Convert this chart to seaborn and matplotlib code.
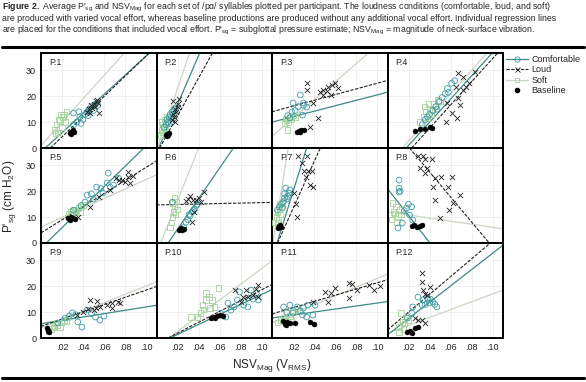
import pandas as pd
import seaborn as sns
import matplotlib.pyplot as plt
from matplotlib.lines import Line2D

participants = ['P.1', 'P.2', 'P.3', 'P.4', 'P.5', 'P.6',
                'P.7', 'P.8', 'P.9', 'P.10', 'P.11', 'P.12']
conditions = ['Comfortable', 'Loud', 'Soft', 'Baseline']

# NSV magnitude (x) and P'sg (y) per participant, one list per panel
comf_x = [
    [0.031, 0.034, 0.037, 0.040, 0.042, 0.044, 0.046, 0.048, 0.050, 0.052, 0.038, 0.045, 0.054, 0.036, 0.031],
    [0.007, 0.009, 0.010, 0.011, 0.012, 0.013, 0.014, 0.015, 0.016, 0.017, 0.012, 0.018],
    [0.027, 0.020, 0.030, 0.033, 0.019, 0.022, 0.029, 0.017, 0.030, 0.025, 0.015],
    [0.033, 0.036, 0.040, 0.043, 0.046, 0.049, 0.052, 0.055, 0.057, 0.061, 0.038, 0.047, 0.058, 0.064],
    [0.044, 0.053, 0.057, 0.063, 0.064, 0.066, 0.048, 0.042, 0.038, 0.031, 0.074, 0.069, 0.059, 0.050],
    [0.026, 0.028, 0.030, 0.032, 0.034, 0.036, 0.038, 0.039, 0.015, 0.031, 0.035],
    [0.005, 0.007, 0.009, 0.011, 0.012, 0.013, 0.015, 0.016, 0.017, 0.012, 0.014, 0.010],
    [0.011, 0.011, 0.012, 0.011, 0.018, 0.021, 0.014, 0.023, 0.024, 0.010, 0.016, 0.020],
    [0.030, 0.035, 0.039, 0.044, 0.052, 0.056, 0.023, 0.016, 0.048, 0.060, 0.027, 0.033],
    [0.068, 0.071, 0.077, 0.087, 0.090, 0.095, 0.097, 0.083, 0.061, 0.066, 0.079, 0.087, 0.092, 0.074],
    [0.011, 0.017, 0.024, 0.030, 0.034, 0.029, 0.033, 0.020, 0.039, 0.041, 0.027, 0.014],
    [0.029, 0.034, 0.038, 0.040, 0.043, 0.047, 0.033, 0.024, 0.023, 0.019, 0.036, 0.041, 0.045],
]
comf_y = [
    [9, 10, 12, 11, 13, 14, 15, 16, 14.5, 17, 9.5, 12.5, 16.5, 14, 13.5],
    [8, 9, 11, 10, 12, 13, 11.5, 14, 13, 15, 9.5, 15.5],
    [20.5, 17.4, 17.4, 15.8, 13.9, 14.5, 12.7, 11.6, 16.5, 16, 12.5],
    [9, 11, 13, 14.5, 16, 18, 19.5, 21, 23, 25, 12, 15, 21.5, 26],
    [18.5, 21.6, 21, 23.2, 27, 21.5, 19, 15.8, 14.5, 12.7, 25, 22.4, 19.3, 17],
    [6, 8, 9, 10.5, 12, 13, 14.5, 15, 15.8, 11, 12.5],
    [12.7, 14, 15, 16, 17.4, 21.2, 18, 19.3, 20.5, 19, 17, 13.5],
    [24.3, 21.2, 20, 19.7, 13.5, 10.8, 7.7, 14, 8.9, 5.8, 12.5, 15],
    [9.7, 6.2, 4.2, 10.8, 8.1, 6.9, 7.7, 5.8, 9.5, 8.5, 8.5, 9],
    [13.5, 10.8, 14.7, 15.4, 18.5, 17.4, 14.7, 12.7, 9.6, 8.1, 17.8, 12, 15, 12],
    [12, 12.7, 12, 11.6, 12.7, 8.9, 8.1, 9.6, 8.9, 12.7, 10.5, 10],
    [15.8, 14.7, 15.4, 13.5, 14, 12, 12.7, 12, 9.6, 7.7, 13, 15, 13],
]
loud_x = [
    [0.044, 0.046, 0.048, 0.050, 0.052, 0.054, 0.049, 0.051, 0.047, 0.055, 0.053],
    [0.015, 0.016, 0.017, 0.018, 0.019, 0.020, 0.021, 0.018, 0.020, 0.016],
    [0.0335, 0.0335, 0.046, 0.049, 0.053, 0.057, 0.060, 0.063, 0.056, 0.049, 0.039, 0.044, 0.036, 0.052],
    [0.067, 0.072, 0.065, 0.072, 0.075, 0.067, 0.057, 0.061, 0.066, 0.056, 0.083, 0.078, 0.069],
    [0.047, 0.055, 0.066, 0.071, 0.077, 0.080, 0.083, 0.083, 0.085, 0.074, 0.088, 0.035],
    [0.045, 0.035, 0.038, 0.034, 0.030, 0.032, 0.040, 0.042, 0.028, 0.036],
    [0.025, 0.033, 0.029, 0.030, 0.034, 0.038, 0.032, 0.039, 0.036, 0.021, 0.024, 0.023],
    [0.029, 0.034, 0.036, 0.042, 0.031, 0.038, 0.036, 0.045, 0.051, 0.061, 0.043, 0.058, 0.069, 0.045, 0.062, 0.059, 0.050],
    [0.047, 0.053, 0.052, 0.056, 0.063, 0.068, 0.068, 0.073, 0.075, 0.034, 0.040, 0.045, 0.050],
    [0.075, 0.085, 0.097, 0.095, 0.087, 0.092, 0.097, 0.082, 0.080],
    [0.039, 0.050, 0.060, 0.053, 0.073, 0.076, 0.081, 0.073, 0.092, 0.097, 0.103, 0.056],
    [0.033, 0.033, 0.040, 0.034, 0.036, 0.033, 0.029, 0.036, 0.026, 0.038],
]
loud_y = [
    [14, 15, 16.5, 17, 18, 17.5, 15.5, 16, 13.5, 13.5, 18.5],
    [11, 13, 12, 15, 14, 17, 19, 10, 16, 18],
    [25, 22.4, 21.6, 22.4, 23.6, 24.3, 25, 23.2, 20.5, 20.5, 17.4, 11.6, 8.1, 22],
    [29, 27.4, 23.6, 22.4, 23.6, 19.3, 17.4, 13.5, 11.6, 10, 29.4, 25, 16.6],
    [13.9, 17.8, 20.5, 25, 24.3, 23.5, 25.5, 27.4, 23.2, 24.5, 26, 10],
    [19.7, 16.6, 16.5, 8.1, 17, 18, 17.5, 16, 16.3, 12],
    [33.6, 33.6, 31, 28, 28, 28, 25.5, 21.6, 22.5, 19.5, 10, 15],
    [33.6, 33.6, 32.5, 32.4, 29, 29, 27, 25, 25.5, 25.5, 21.6, 21.6, 18.5, 16.6, 15.4, 12.7, 9.6],
    [14.7, 14.3, 11.6, 12, 12.7, 11.6, 13.5, 13.9, 13.5, 8.9, 10, 11.2, 11],
    [18.5, 18.5, 20.5, 19, 15.8, 16.5, 15.8, 16, 14],
    [13.9, 17.8, 19.3, 13.9, 21.2, 20.8, 18.5, 15.4, 20.5, 18.5, 20, 17.4],
    [25, 21.6, 19.7, 18.5, 17, 7, 6.8, 5.8, 7.7, 16.5],
]
soft_x = [
    [0.013, 0.015, 0.017, 0.019, 0.021, 0.023, 0.016, 0.020, 0.024, 0.018, 0.014, 0.022],
    [0.004, 0.005, 0.006, 0.007, 0.008, 0.009, 0.010, 0.006, 0.008, 0.005],
    [0.014, 0.017, 0.012, 0.015, 0.018, 0.020, 0.016, 0.022, 0.013],
    [0.031, 0.034, 0.036, 0.038, 0.040, 0.042, 0.044, 0.046, 0.048, 0.050, 0.035, 0.039, 0.043],
    [0.026, 0.028, 0.030, 0.032, 0.034, 0.036, 0.038, 0.040, 0.029, 0.033, 0.037],
    [0.013, 0.014, 0.015, 0.016, 0.017, 0.018, 0.019, 0.020, 0.015, 0.017],
    [0.003, 0.004, 0.005, 0.006, 0.007, 0.008, 0.009, 0.010, 0.005, 0.007],
    [0.004, 0.006, 0.008, 0.010, 0.012, 0.013, 0.005, 0.009, 0.007],
    [0.007, 0.010, 0.013, 0.016, 0.019, 0.022, 0.025, 0.012, 0.018, 0.024, 0.015],
    [0.033, 0.042, 0.044, 0.047, 0.050, 0.047, 0.059, 0.053, 0.051, 0.039, 0.055, 0.045],
    [0.005, 0.008, 0.011, 0.014, 0.017, 0.020, 0.024, 0.012, 0.018],
    [0.013, 0.014, 0.011, 0.016, 0.011, 0.018, 0.015, 0.020],
]
soft_y = [
    [7, 9, 11, 13, 12, 10, 6, 8, 14, 10.5, 5.5, 13],
    [5, 7, 9, 8, 11, 10, 12, 6, 7.5, 10],
    [10.8, 12, 9.6, 7, 11, 12.5, 10, 12, 11.5],
    [10, 12, 14, 11.5, 15, 13, 17, 16, 18.5, 18, 16, 17, 14.5],
    [11.5, 12, 12.5, 13, 12.2, 13.5, 14, 14.7, 11, 12.8, 12],
    [6, 8, 10, 12, 14, 11, 16, 13, 15.5, 17.4],
    [8, 10, 12, 9, 13, 11, 14, 15.4, 7.7, 15],
    [9, 12, 14, 10.5, 13, 11, 15.4, 8, 11.5],
    [2.5, 3.5, 4.5, 5, 6, 7, 8, 4, 4.2, 6.5, 6],
    [8.1, 9.6, 12.7, 14.7, 15.8, 17.4, 19.3, 14.7, 11.6, 8.1, 12, 11],
    [6, 7, 8, 9.6, 8.5, 10, 10.8, 6.5, 7],
    [9.6, 6.2, 4.2, 5.5, 2.3, 8, 3.5, 7],
]
base_x = [
    [0.028, 0.029, 0.030, 0.031, 0.029],
    [0.009, 0.010, 0.011, 0.012, 0.010],
    [0.024, 0.026, 0.028, 0.030, 0.027],
    [0.026, 0.031, 0.036, 0.040, 0.042],
    [0.026, 0.028, 0.030, 0.032, 0.029],
    [0.021, 0.022, 0.023, 0.024, 0.026],
    [0.006, 0.007, 0.008, 0.009, 0.007],
    [0.023, 0.025, 0.028, 0.031, 0.033],
    [0.006, 0.007, 0.007, 0.008],
    [0.052, 0.055, 0.058, 0.060, 0.063, 0.056],
    [0.010, 0.012, 0.014, 0.017, 0.022, 0.036, 0.040, 0.013],
    [0.019, 0.023, 0.026, 0.029, 0.021],
]
base_y = [
    [5.8, 6.3, 6.8, 6.1, 5.4],
    [5, 5.5, 5.2, 5.8, 4.6],
    [6.2, 6.6, 6.8, 7, 6.3],
    [6.6, 7.3, 7.4, 8.0, 7.7],
    [9.5, 9.0, 9.8, 9.2, 10],
    [5.0, 5.4, 5.8, 5.2, 5.6],
    [5.8, 6.4, 7, 6.2, 6.7],
    [6.5, 6.8, 6.2, 6.6, 7],
    [3.9, 2.7, 3.2, 2.5],
    [7.7, 8.0, 8.4, 8.9, 8.6, 7.6],
    [6.5, 5.5, 6, 5.8, 5.8, 6.2, 5.4, 5],
    [2.3, 1.9, 3.9, 4.2, 2.8],
]

# individual regression lines (slope, intercept)
comf_slope = [370, 940, 105, 448, 395, 590, 1300, -520, 65, 193, 58, 315]
comf_icpt = [-1.5, -2, 10, -8, -2, -6.5, -6.2, 21, 5.5, -2.5, 7.7, 1.2]
loud_slope = [390, 730, 110, 448, 253, 9, 900, -483, 140, 209, 120, 343]
loud_icpt = [-3.5, -2.2, 14, -10.3, 3.9, 14.7, -4.7, 46.8, 4.5, -2.3, 9.3, 3.1]
soft_slope = [450, 1200, 350, 455, 183, 1015, 2500, -59, 162, 304, 170, 151]
soft_icpt = [1, -1, 4.5, -6.4, 6.2, -4, -2, 12, 3.9, -3.6, 6, 1.9]

xticks = [0.02, 0.04, 0.06, 0.08, 0.10]
xtick_labels = ['.02', '.04', '.06', '.08', '.10']
yticks = [0, 10, 20, 30]

rows = []
for i, p in enumerate(participants):
    for cond, xs, ys in [('Comfortable', comf_x[i], comf_y[i]), ('Loud', loud_x[i], loud_y[i]),
                         ('Soft', soft_x[i], soft_y[i]), ('Baseline', base_x[i], base_y[i])]:
        for x, y in zip(xs, ys):
            rows.append((p, cond, x, y))
df = pd.DataFrame(rows, columns=['participant', 'condition', 'nsv', 'psg'])

sns.set_style('whitegrid', {'grid.color': '#eaeaea', 'axes.edgecolor': 'black'})
plt.rcParams['font.family'] = ['Liberation Sans', 'DejaVu Sans']
plt.rcParams['mathtext.fontset'] = 'custom'
plt.rcParams['mathtext.rm'] = 'Liberation Sans'
plt.rcParams['mathtext.bf'] = 'Liberation Sans:bold'
plt.rcParams['mathtext.it'] = 'Liberation Sans:italic'

comf_pt, comf_ln = '#3e9ba6', '#3d8a86'
soft_pt, soft_ln = '#a2d29a', '#c9d6c4'
loud_c = '#222222'

fig, axes = plt.subplots(3, 4, figsize=(5.86, 3.82), dpi=100, sharex=True, sharey=True)
fig.subplots_adjust(left=41/586, right=503/586, top=1-53/382, bottom=1-338/382,
                    wspace=0, hspace=0)

for i, ax in enumerate(axes.flat):
    p = participants[i]
    sub = df[df.participant == p]
    ax.set_xlim(0, 0.11)
    ax.set_ylim(0, 36.7)

    ax.axline((0, soft_icpt[i]), slope=soft_slope[i], color=soft_ln, lw=0.9, zorder=2)
    ax.axline((0, comf_icpt[i]), slope=comf_slope[i], color=comf_ln, lw=0.9, zorder=2)
    ax.axline((0, loud_icpt[i]), slope=loud_slope[i], color=loud_c, lw=0.8,
              dashes=(3, 1.3), zorder=2)

    sns.scatterplot(data=sub[sub.condition == 'Soft'], x='nsv', y='psg', marker='s', s=15,
                    color=soft_pt, facecolor='none', edgecolor=soft_pt, linewidth=0.6,
                    ax=ax, zorder=3)
    sns.scatterplot(data=sub[sub.condition == 'Comfortable'], x='nsv', y='psg', marker='o', s=17,
                    color=comf_pt, facecolor='none', edgecolor=comf_pt, linewidth=0.6,
                    ax=ax, zorder=3)
    sns.scatterplot(data=sub[sub.condition == 'Loud'], x='nsv', y='psg', marker='x', s=14,
                    color=loud_c, linewidth=0.6, ax=ax, zorder=3)
    sns.scatterplot(data=sub[sub.condition == 'Baseline'], x='nsv', y='psg', marker='o', s=13,
                    color='black', edgecolor='black', linewidth=0.3, ax=ax, zorder=4)

    ax.text(0.07, 0.9, p, transform=ax.transAxes, fontsize=6.5, va='center', ha='left')
    ax.set_xlabel('')
    ax.set_ylabel('')
    ax.set_xticks(xticks, xtick_labels)
    ax.set_yticks(yticks)
    ax.grid(True, lw=0.5)
    for sp in ax.spines.values():
        sp.set_linewidth(1.4)
        sp.set_color('black')
    ax.tick_params(labelsize=6.5, length=2, width=0.6, pad=1.5, colors='#222222')

fig.text(10/586, 1-196/382, r"P'$_{\rm sg}$ (cm H$_2$O)", rotation=90, fontsize=8.5,
         ha='center', va='center')
fig.text(272/586, 1-365/382, r"NSV$_{\rm Mag}$ (V$_{\rm RMS}$)", fontsize=8.5,
         ha='center', va='center')

caption = [
    r"$\mathbf{Figure\ 2.}$ Average P'$_{\rm sg}$ and NSV$_{\rm Mag}$ for each set of /pɑ/ syllables "
    r"plotted per participant. The loudness conditions (comfortable, loud, and soft)",
    "are produced with varied vocal effort, whereas baseline productions are produced "
    "without any additional vocal effort. Individual regression lines",
    r"are placed for the conditions that included vocal effort. P'$_{\rm sg}$ = subglottal "
    r"pressure estimate; NSV$_{\rm Mag}$ = magnitude of neck-surface vibration.",
]
for k, line in enumerate(caption):
    fig.text(2/586, 1-(7+11.5*k)/382, line, fontsize=6.35, ha='left', va='center')

for yy in [47, 378]:
    fig.add_artist(Line2D([2/586, 584/586], [1-yy/382]*2, transform=fig.transFigure,
                          color='black', lw=2.2))

handles = [
    Line2D([], [], color=comf_ln, lw=0.9, marker='o', ms=3.8, mfc='none', mec=comf_pt, mew=0.6),
    Line2D([], [], color=loud_c, lw=0.8, dashes=(3, 1.3), marker='x', ms=3.6, mew=0.6),
    Line2D([], [], color=soft_ln, lw=0.9, marker='s', ms=3.4, mfc='none', mec=soft_pt, mew=0.6),
    Line2D([], [], color='black', ls='none', marker='o', ms=3),
]
fig.legend(handles, conditions, loc='upper left', bbox_to_anchor=(506/586, 1-55/382),
           frameon=False, fontsize=6.5, handlelength=2.4, handletextpad=0.4,
           labelspacing=0.15, borderaxespad=0, borderpad=0)

fig.savefig('out.png', dpi=100)
